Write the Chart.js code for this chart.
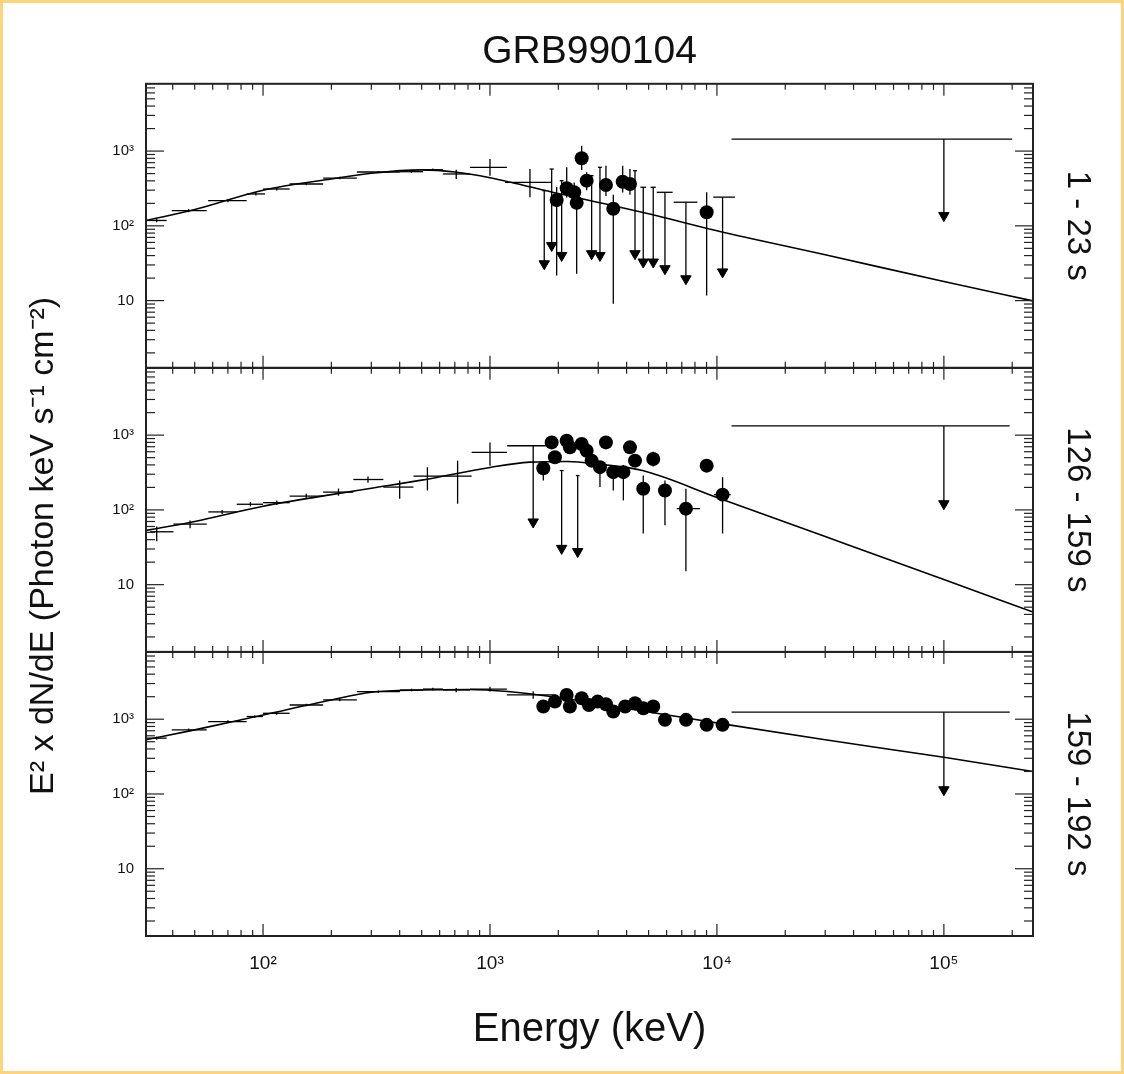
<!DOCTYPE html>
<html>
<head>
<meta charset="utf-8">
<title>GRB990104</title>
<script src="https://cdn.jsdelivr.net/npm/chart.js@4.4.1/dist/chart.umd.min.js"></script>
<style>
  html, body { margin: 0; padding: 0; background: #fff; }
  #wrap { position: relative; width: 1124px; height: 1074px; overflow: hidden; }
  #wrap canvas { position: absolute; left: 0; top: 0; }
  #frame { position: absolute; left: 0; top: 0; right: 0; bottom: 0; border: 3px solid #fdd37c; pointer-events: none; }
</style>
</head>
<body>
<div id="wrap">
  <canvas id="spectrumChart" width="1124" height="1074"></canvas>
  <div id="frame"></div>
</div>
<script>
// Axis ranges (keV and E^2 dN/dE)
const xMin = 30.5, xMax = 247000;
const yMin = 1.26, yMax = 7940;

// Panel 1: 1 - 23 s
const p1ModelE = [30.5, 50, 100, 200, 300, 500, 700, 1000, 2000, 5000, 10000, 30000, 100000, 247000];
const p1ModelF = [118, 165, 300, 424, 505, 560, 525, 440, 270, 145, 86, 41, 18, 9.9];
const p1BatseLo = [30.7, 39.6, 57.3, 84.7, 100, 131, 184, 259, 401, 507, 620, 816, 1165];
const p1BatseHi = [37.6, 56.5, 84.7, 102, 131, 184, 259, 401, 507, 620, 816, 1187, 1870];
const p1BatseE = [34, 47, 70, 93, 115, 155, 218, 322, 451, 560, 710, 1000, 1500];
const p1BatseF = [118, 160, 217, 267, 311, 363, 436, 525, 530, 563, 494, 606, 382];
const p1BatseFlo = [112, 152, 207, 255, 297, 348, 420, 508, 510, 540, 424, 469, 241];
const p1BatseFhi = [124, 168, 227, 280, 326, 378, 452, 542, 550, 586, 563, 782, 575];
const p1DotE = [1967, 2178, 2350, 2410, 2535, 2667, 3243, 3494, 3843, 4138, 9010];
const p1DotF = [222, 319, 281, 203, 800, 402, 352, 169, 389, 363, 152];
const p1DotFlo = [21.7, 240, 200, 22.9, 560, 300, 250, 9.1, 280, 260, 11.7];
const p1DotFhi = [330, 607, 380, 300, 1177, 520, 637, 260, 637, 575, 282];
const p1DotLo = [1967, 2178, 2350, 2410, 2535, 2667, 3243, 3494, 3843, 4138, 9010];
const p1DotHi = [1967, 2178, 2350, 2410, 2535, 2667, 3243, 3494, 3843, 4138, 9010];
const p1LimLo = [1700, 1830, 2030, 2750, 2990, 4270, 4600, 5100, 5430, 6450, 9640, 11600];
const p1LimHi = [1770, 1910, 2110, 2860, 3110, 4440, 4870, 5380, 6380, 8200, 12000, 200000];
const p1LimE = [1734, 1870, 2069, 2805, 3052, 4355, 4735, 5240, 5902, 7300, 10590, 100000];
const p1LimTop = [296, 575, 402, 469, 607, 546, 328, 328, 281, 207, 242, 1445];
const p1LimTip = [31.1, 54.6, 40.2, 42.4, 40.2, 42.4, 32.8, 32.8, 26.7, 19.6, 24.2, 137];

// Panel 2: 126 - 159 s
const p2ModelE = [30.5, 50, 100, 200, 300, 500, 1000, 1500, 2200, 3000, 4700, 10000, 30000, 100000, 247000];
const p2ModelF = [53, 70, 112, 160, 195, 250, 370, 435, 445, 410, 336, 147, 44, 11.7, 4.3];
const p2BatseLo = [31.8, 40.3, 57.4, 76.6, 100, 131, 184, 250, 339, 460, 624, 830];
const p2BatseHi = [40.3, 56.5, 76.6, 100, 131, 184, 250, 339, 460, 624, 830, 1187];
const p2BatseE = [34, 47.7, 66, 88, 115, 155, 215, 290, 400, 530, 720, 1000];
const p2BatseF = [51, 64.4, 94, 119, 125, 153, 173, 255, 202, 283, 283, 589];
const p2BatseFlo = [38, 57, 88, 111, 116, 143, 155, 230, 141, 182, 121, 391];
const p2BatseFhi = [60, 72, 100, 127, 134, 164, 193, 280, 247, 372, 456, 800];
const p2DotE = [1718, 1870, 1932, 2177, 2250, 2535, 2667, 2805, 3052, 3243, 3494, 3870, 4138, 4355, 4735, 5240, 5902, 7300, 9010, 10590];
const p2DotF = [361, 800, 506, 840, 687, 760, 619, 456, 373, 800, 320, 320, 687, 456, 192, 480, 182, 104, 391, 160];
const p2DotFlo = [247, 700, 430, 740, 600, 660, 540, 390, 202, 680, 182, 134, 560, 380, 48.4, 380, 62.5, 15.1, 330, 48.4];
const p2DotFhi = [450, 900, 590, 950, 780, 870, 710, 530, 450, 930, 400, 400, 800, 540, 288, 600, 247, 192, 460, 274];
const p2DotLo = [1718, 1870, 1932, 2177, 2250, 2535, 2667, 2805, 3052, 3243, 3494, 3870, 4138, 4355, 4735, 5240, 5902, 6650, 9010, 9700];
const p2DotHi = [1718, 1870, 1932, 2177, 2250, 2535, 2667, 2805, 3052, 3243, 3494, 3870, 4138, 4355, 4735, 5240, 5902, 8420, 9010, 11500];
const p2LimLo = [1190, 2030, 2390, 11600];
const p2LimHi = [1840, 2110, 2480, 195000];
const p2LimE = [1550, 2069, 2435, 100000];
const p2LimTop = [721, 336, 288, 1330];
const p2LimTip = [69, 30.6, 27.7, 121];

// Panel 3: 159 - 192 s
const p3ModelE = [30.5, 50, 100, 200, 300, 500, 800, 1200, 2000, 5000, 11300, 30000, 100000, 247000];
const p3ModelF = [530, 720, 1140, 1810, 2290, 2460, 2500, 2350, 1950, 1250, 840, 530, 310, 200];
const p3BatseLo = [30.7, 39.6, 57.3, 84.7, 100, 131, 184, 259, 401, 507, 620, 816, 1187];
const p3BatseHi = [37.6, 56.5, 84.7, 100, 131, 184, 259, 401, 507, 620, 816, 1187, 1960];
const p3BatseE = [34, 47, 70, 92, 115, 155, 218, 322, 451, 560, 710, 1000, 1550];
const p3BatseF = [558, 720, 931, 1086, 1200, 1550, 1810, 2340, 2460, 2530, 2460, 2530, 2110];
const p3BatseFlo = [530, 690, 895, 1045, 1150, 1490, 1740, 2250, 2360, 2420, 2300, 2350, 1880];
const p3BatseFhi = [586, 750, 967, 1127, 1250, 1610, 1880, 2430, 2560, 2640, 2620, 2720, 2360];
const p3DotE = [1718, 1932, 2177, 2250, 2535, 2730, 2980, 3243, 3494, 3940, 4355, 4735, 5240, 5902, 7310, 9010, 10590];
const p3DotF = [1476, 1720, 2110, 1476, 1905, 1550, 1720, 1585, 1266, 1476, 1635, 1400, 1476, 980, 980, 840, 840];
const p3LimLo = [11600];
const p3LimHi = [195000];
const p3LimE = [100000];
const p3LimTop = [1240];
const p3LimTip = [114];

const panelLabels = ['1 - 23 s', '126 - 159 s', '159 - 192 s'];
const yTitle = 'E² x dN/dE (Photon keV s⁻¹ cm⁻²)';

const panels = [
    { axis: 'y1', label: panelLabels[0], modelE: p1ModelE, modelF: p1ModelF,
      batse: [p1BatseLo, p1BatseHi, p1BatseE, p1BatseF, p1BatseFlo, p1BatseFhi],
      dots: [p1DotLo, p1DotHi, p1DotE, p1DotF, p1DotFlo, p1DotFhi],
      lims: [p1LimLo, p1LimHi, p1LimE, p1LimTop, p1LimTip] },
    { axis: 'y2', label: panelLabels[1], modelE: p2ModelE, modelF: p2ModelF,
      batse: [p2BatseLo, p2BatseHi, p2BatseE, p2BatseF, p2BatseFlo, p2BatseFhi],
      dots: [p2DotLo, p2DotHi, p2DotE, p2DotF, p2DotFlo, p2DotFhi],
      lims: [p2LimLo, p2LimHi, p2LimE, p2LimTop, p2LimTip] },
    { axis: 'y3', label: panelLabels[2], modelE: p3ModelE, modelF: p3ModelF,
      batse: [p3BatseLo, p3BatseHi, p3BatseE, p3BatseF, p3BatseFlo, p3BatseFhi],
      dots: [p3DotE, p3DotE, p3DotE, p3DotF, p3DotF, p3DotF],
      lims: [p3LimLo, p3LimHi, p3LimE, p3LimTop, p3LimTip] }
];

const supDigits = { '0': '⁰', '1': '¹', '2': '²', '3': '³', '4': '⁴', '5': '⁵', '6': '⁶', '7': '⁷', '8': '⁸', '9': '⁹', '-': '⁻' };

function decadeLabel(value) {
    const e = Math.log10(value);
    const n = Math.round(e);
    if (Math.abs(e - n) > 1e-6) return '';
    if (n === 1) return '10';
    return '10' + String(n).split('').map(c => supDigits[c]).join('');
}

// only 1..9 x 10^n ticks, skip the min/max and 15, 150... ticks
function isNiceTick(value) {
    const e = Math.floor(Math.log10(value) + 1e-9);
    const s = value / Math.pow(10, e);
    return Math.abs(s - Math.round(s)) < 1e-6;
}

function pts(xs, ys) {
    return xs.map((x, i) => ({ x: x, y: ys[i] }));
}

function seg(ctx, x1, y1, x2, y2) {
    ctx.beginPath();
    ctx.moveTo(x1, y1);
    ctx.lineTo(x2, y2);
    ctx.stroke();
}

// error bars, frames, inner ticks and side labels
const panelFrames = {
    id: 'panelFrames',
    beforeDatasetsDraw(chart) {
        const ctx = chart.ctx;
        const xs = chart.scales.x;
        ctx.save();
        ctx.strokeStyle = '#000';
        ctx.lineWidth = 1.3;
        panels.forEach(p => {
            const ys = chart.scales[p.axis];
            [p.batse, p.dots].forEach(g => {
                const [lo, hi, e, f, flo, fhi] = g;
                e.forEach((v, i) => {
                    const x = xs.getPixelForValue(v);
                    const y = ys.getPixelForValue(f[i]);
                    if (hi[i] > lo[i]) seg(ctx, xs.getPixelForValue(lo[i]), y, xs.getPixelForValue(hi[i]), y);
                    if (fhi[i] > flo[i]) seg(ctx, x, ys.getPixelForValue(flo[i]), x, ys.getPixelForValue(fhi[i]));
                });
            });
            const [lo, hi, e, top, tip] = p.lims;
            e.forEach((v, i) => {
                const x = xs.getPixelForValue(v);
                const yt = ys.getPixelForValue(top[i]);
                seg(ctx, xs.getPixelForValue(lo[i]), yt, xs.getPixelForValue(hi[i]), yt);
                seg(ctx, x, yt, x, ys.getPixelForValue(tip[i]));
            });
        });
        ctx.restore();
    },
    afterDatasetsDraw(chart) {
        const ctx = chart.ctx;
        const xs = chart.scales.x;
        const { left, right } = chart.chartArea;
        ctx.save();
        ctx.strokeStyle = '#222';
        panels.forEach(p => {
            const ys = chart.scales[p.axis];
            const top = ys.top, bottom = ys.bottom;
            ctx.lineWidth = 1.2;
            ys.ticks.forEach(t => {
                if (!isNiceTick(t.value)) return;
                const y = ys.getPixelForValue(t.value);
                const len = decadeLabel(t.value) ? 18 : 9;
                seg(ctx, left, y, left + len, y);
                seg(ctx, right, y, right - len, y);
            });
            xs.ticks.forEach(t => {
                if (!isNiceTick(t.value)) return;
                const x = xs.getPixelForValue(t.value);
                const len = decadeLabel(t.value) ? 12 : 6;
                seg(ctx, x, top, x, top + len);
                seg(ctx, x, bottom, x, bottom - len);
            });
            ctx.lineWidth = 2;
            ctx.strokeRect(left, top, right - left, bottom - top);
        });
        ctx.restore();
    },
    afterDraw(chart) {
        const ctx = chart.ctx;
        const area = chart.chartArea;
        ctx.save();
        ctx.fillStyle = '#111';
        ctx.textAlign = 'center';
        ctx.textBaseline = 'middle';
        ctx.font = "34px 'Liberation Sans', Arial, sans-serif";
        ctx.translate(44, (area.top + area.bottom) / 2 + 36);
        ctx.rotate(-Math.PI / 2);
        ctx.fillText(yTitle, 0, 0);
        ctx.restore();

        panels.forEach(p => {
            const ys = chart.scales[p.axis];
            ctx.save();
            ctx.fillStyle = '#111';
            ctx.textAlign = 'center';
            ctx.textBaseline = 'middle';
            ctx.font = "33px 'Liberation Sans', Arial, sans-serif";
            ctx.translate(area.right + 44, (ys.top + ys.bottom) / 2);
            ctx.rotate(Math.PI / 2);
            ctx.fillText(p.label, 0, 0);
            ctx.restore();
        });
    }
};

function panelAxis(weight) {
    return {
        type: 'logarithmic',
        position: 'left',
        stack: 'panels',
        stackWeight: 1,
        weight: weight,
        min: yMin,
        max: yMax,
        grid: { display: false, drawTicks: false },
        border: { display: false },
        ticks: {
            autoSkip: false,
            padding: 12,
            color: '#111',
            font: { size: 15 },
            callback: value => decadeLabel(value)
        },
        afterFit: scale => { scale.width = 146; }
    };
}

document.addEventListener('DOMContentLoaded', function() {
    const ctx = document.getElementById('spectrumChart');
    Chart.defaults.font.family = "'Liberation Sans', Arial, 'DejaVu Sans', sans-serif";

    const datasets = [];
    panels.forEach(p => {
        datasets.push({
            data: pts(p.modelE, p.modelF),
            yAxisID: p.axis,
            showLine: true,
            borderColor: '#000',
            borderWidth: 1.6,
            pointRadius: 0,
            cubicInterpolationMode: 'monotone'
        });
        datasets.push({
            data: pts(p.dots[2], p.dots[3]),
            yAxisID: p.axis,
            pointRadius: 7,
            backgroundColor: '#000',
            borderWidth: 0
        });
        datasets.push({
            data: pts(p.lims[2], p.lims[4]),
            yAxisID: p.axis,
            pointStyle: 'triangle',
            rotation: 180,
            pointRadius: 6,
            backgroundColor: '#000',
            borderColor: '#000',
            borderWidth: 1
        });
    });

    new Chart(ctx, {
        type: 'scatter',
        data: { datasets: datasets },
        options: {
            responsive: false,
            animation: false,
            devicePixelRatio: 1,
            layout: { padding: { left: 0, right: 91, top: 0, bottom: 0 } },
            plugins: {
                legend: { display: false },
                tooltip: { enabled: false },
                title: {
                    display: true,
                    text: 'GRB990104',
                    fullSize: false,
                    color: '#111',
                    font: { size: 39, weight: 'normal' },
                    padding: { top: 29, bottom: 8 }
                }
            },
            scales: {
                x: {
                    type: 'logarithmic',
                    position: 'bottom',
                    min: xMin,
                    max: xMax,
                    grid: { display: false, drawTicks: false },
                    border: { display: false },
                    ticks: {
                        autoSkip: false,
                        maxRotation: 0,
                        padding: 16,
                        color: '#111',
                        font: { size: 19 },
                        callback: value => decadeLabel(value)
                    },
                    title: {
                        display: true,
                        text: 'Energy (keV)',
                        color: '#111',
                        font: { size: 40 },
                        padding: { top: 0, bottom: 20 }
                    },
                    afterFit: scale => { scale.height = 138; }
                },
                y1: panelAxis(3),
                y2: panelAxis(2),
                y3: panelAxis(1)
            }
        },
        plugins: [panelFrames]
    });
});
</script>
</body>
</html>
